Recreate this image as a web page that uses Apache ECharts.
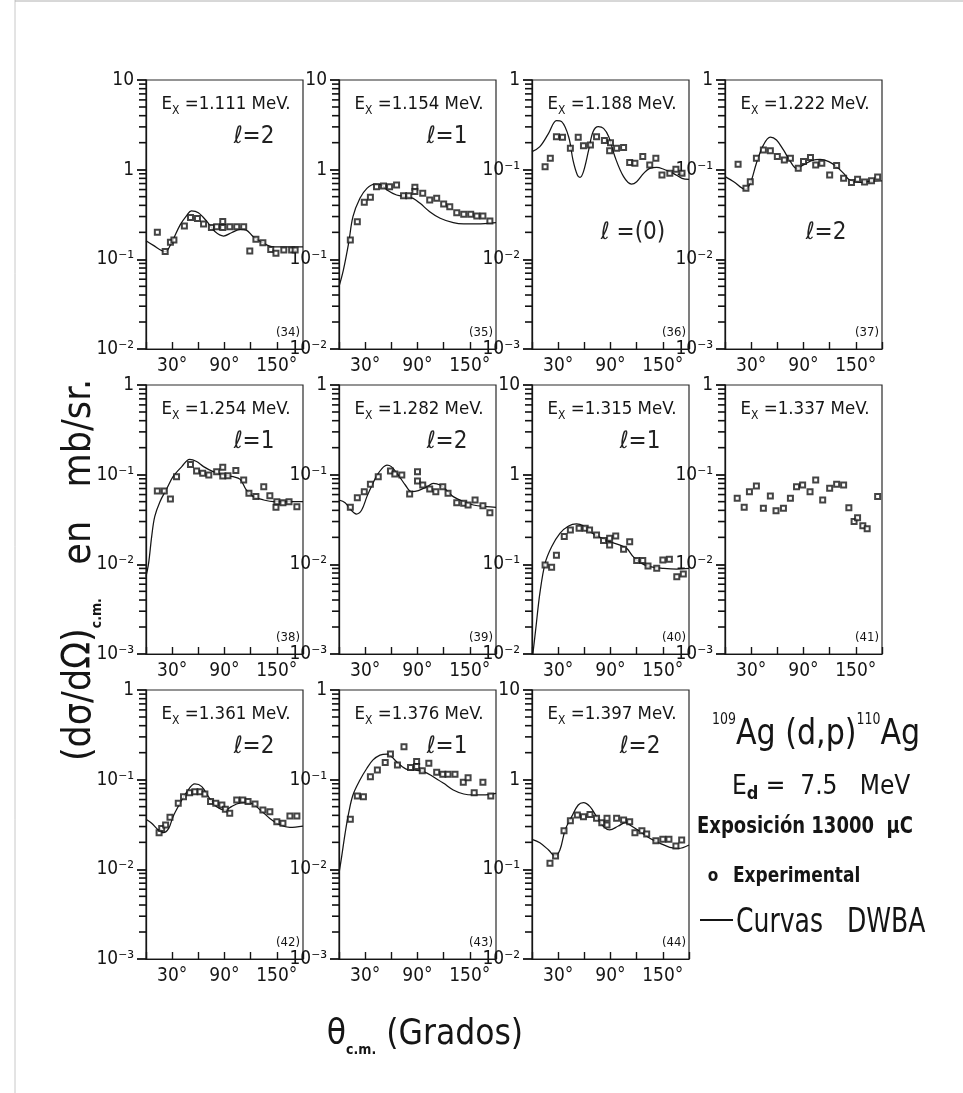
<!DOCTYPE html>
<html><head><meta charset="utf-8">
<script src="https://cdn.jsdelivr.net/npm/echarts@6/dist/echarts.min.js"></script>
<style>html,body{margin:0;padding:0;background:#fff}#c{width:963px;height:1093px}</style>
</head><body><div id="c"></div>
<script>
// ---------------- data ----------------
const xTickLabels = [30, 90, 150];
const energies = ['1.111','1.154','1.188','1.222','1.254','1.282','1.315','1.337','1.361','1.376','1.397'];
const lValues = ['2','1','(0)','2','1','2','1',null,'2','1','2'];
const panelNumbers = ['(34)','(35)','(36)','(37)','(38)','(39)','(40)','(41)','(42)','(43)','(44)'];
const yTops = [10,10,1,1,1,1,10,1,1,1,10];

const dwba34A = [0, 8, 22, 29, 39, 47, 52, 60, 70, 79, 89, 98, 108, 115, 123, 135, 146, 161, 180];
const dwba34S = [0.161, 0.144, 0.122, 0.151, 0.241, 0.312, 0.346, 0.331, 0.263, 0.204, 0.182, 0.198, 0.216, 0.212, 0.179, 0.151, 0.138, 0.138, 0.138];
const exp34A = [13, 22, 28, 32, 44, 51, 59, 66, 75, 81, 88, 88, 96, 104, 112, 119, 126, 134, 143, 149, 158, 167, 171];
const exp34S = [0.200, 0.122, 0.155, 0.164, 0.235, 0.292, 0.286, 0.248, 0.227, 0.231, 0.265, 0.227, 0.231, 0.231, 0.231, 0.124, 0.167, 0.153, 0.129, 0.117, 0.127, 0.127, 0.127];

const dwba35A = [0, 5, 11, 16, 24, 32, 41, 49, 55, 66, 78, 85, 93, 104, 116, 131, 143, 158, 180];
const dwba35S = [0.0496, 0.076, 0.151, 0.299, 0.479, 0.619, 0.692, 0.674, 0.593, 0.522, 0.500, 0.479, 0.421, 0.340, 0.287, 0.256, 0.248, 0.248, 0.256];
const exp35A = [13, 21, 29, 36, 43, 51, 58, 66, 74, 80, 87, 87, 96, 104, 112, 120, 127, 135, 143, 151, 158, 165, 173];
const exp35S = [0.164, 0.263, 0.432, 0.491, 0.646, 0.658, 0.646, 0.675, 0.513, 0.513, 0.635, 0.569, 0.545, 0.459, 0.479, 0.414, 0.387, 0.331, 0.318, 0.318, 0.304, 0.304, 0.268];

const dwba36A = [0, 9, 19, 28, 34, 42, 47, 52, 55, 59, 65, 70, 76, 82, 88, 95, 105, 114, 120, 128, 135, 143, 151, 162, 172, 180];
const dwba36S = [0.159, 0.181, 0.254, 0.352, 0.343, 0.233, 0.128, 0.0872, 0.082, 0.095, 0.166, 0.265, 0.302, 0.289, 0.233, 0.140, 0.0836, 0.0692, 0.0735, 0.091, 0.1035, 0.106, 0.101, 0.091, 0.080, 0.078];
const exp36A = [15, 21, 28, 35, 44, 53, 59, 67, 74, 83, 89, 90, 97, 105, 112, 118, 127, 135, 142, 149, 158, 165, 172];
const exp36S = [0.108, 0.134, 0.233, 0.230, 0.173, 0.230, 0.185, 0.188, 0.233, 0.211, 0.163, 0.200, 0.173, 0.177, 0.120, 0.118, 0.140, 0.113, 0.134, 0.0872, 0.091, 0.101, 0.091];

const dwba37A = [0, 10, 23, 29, 36, 44, 52, 59, 67, 75, 82, 90, 101, 109, 119, 128, 136, 143, 155, 165, 180];
const dwba37S = [0.0836, 0.0735, 0.0604, 0.0704, 0.118, 0.188, 0.230, 0.214, 0.166, 0.123, 0.1035, 0.113, 0.128, 0.130, 0.123, 0.108, 0.091, 0.0767, 0.072, 0.074, 0.075];
const exp37A = [15, 24, 29, 36, 44, 52, 60, 68, 75, 84, 90, 98, 104, 111, 120, 128, 136, 145, 152, 160, 168, 175];
const exp37S = [0.115, 0.062, 0.0735, 0.134, 0.166, 0.163, 0.140, 0.128, 0.134, 0.1035, 0.123, 0.137, 0.113, 0.118, 0.087, 0.111, 0.080, 0.072, 0.078, 0.073, 0.075, 0.083];

const dwba38A = [0, 3, 6.5, 10, 16, 24, 31, 41, 50, 58, 66, 77, 89, 100, 108, 115, 123, 135, 146, 161, 180];
const dwba38S = [0.0073, 0.0103, 0.0204, 0.034, 0.050, 0.0704, 0.095, 0.123, 0.148, 0.140, 0.123, 0.108, 0.099, 0.095, 0.0887, 0.0675, 0.0569, 0.0522, 0.050, 0.050, 0.050];
const exp38A = [13, 21, 28, 35, 51, 58, 65, 72, 81, 88, 88, 94, 103, 112, 118, 126, 135, 142, 149, 150, 157, 164, 173];
const exp38S = [0.0658, 0.0658, 0.0535, 0.095, 0.130, 0.110, 0.1035, 0.099, 0.108, 0.121, 0.0966, 0.097, 0.111, 0.087, 0.062, 0.0569, 0.0735, 0.0583, 0.0432, 0.050, 0.0487, 0.050, 0.044];

const dwba39A = [0, 7, 13, 20, 26, 32, 38, 45, 55, 60, 68, 76, 83, 91, 101, 108, 116, 123, 131, 143, 154, 169, 180];
const dwba39S = [0.0522, 0.0487, 0.0411, 0.0364, 0.0404, 0.0569, 0.0767, 0.1035, 0.128, 0.123, 0.099, 0.0767, 0.0646, 0.0664, 0.0735, 0.080, 0.0767, 0.0675, 0.0569, 0.050, 0.0459, 0.044, 0.0432];
const exp39A = [13, 21, 29, 36, 45, 59, 64, 72, 81, 90, 90, 96, 104, 111, 119, 125, 135, 143, 148, 156, 165, 173];
const exp39S = [0.0432, 0.0554, 0.0646, 0.078, 0.095, 0.110, 0.1017, 0.099, 0.0608, 0.108, 0.085, 0.0767, 0.0692, 0.0646, 0.0735, 0.062, 0.0487, 0.0479, 0.0459, 0.0522, 0.0451, 0.0377];

const dwba40A = [1, 4.6, 9, 15, 22.5, 32, 42, 51, 59, 66.5, 78, 89, 101, 108.5, 116, 124, 135, 151, 166, 180];
const dwba40S = [0.0100, 0.0202, 0.0475, 0.1026, 0.157, 0.222, 0.268, 0.282, 0.268, 0.231, 0.200, 0.179, 0.164, 0.151, 0.122, 0.1045, 0.0942, 0.0902, 0.0887, 0.0902];
const exp40A = [15, 22.5, 28, 37, 44, 54, 61, 66, 74, 82, 89, 89, 96, 105, 112, 120, 127, 133, 143, 150, 157.5, 166, 173.5];
const exp40S = [0.0984, 0.0927, 0.126, 0.204, 0.241, 0.252, 0.252, 0.241, 0.212, 0.184, 0.195, 0.164, 0.207, 0.147, 0.179, 0.110, 0.110, 0.0957, 0.0902, 0.112, 0.114, 0.0728, 0.078];

const exp41A = [14, 22, 28, 36, 44, 52, 58.5, 67, 75, 82, 89, 97.5, 104, 112, 120, 128, 136, 142, 148, 152, 158, 163, 175];
const exp41S = [0.0545, 0.0432, 0.0646, 0.0748, 0.0421, 0.0578, 0.0397, 0.0421, 0.0545, 0.0735, 0.0767, 0.0646, 0.0872, 0.0522, 0.0704, 0.078, 0.0767, 0.0428, 0.030, 0.033, 0.027, 0.025, 0.057];

const dwba42A = [0, 6.5, 14, 20, 26, 31, 39, 47, 56, 64, 71.5, 81, 91, 98, 104, 112, 121, 131, 142, 154, 165, 180];
const dwba42S = [0.0361, 0.0326, 0.0275, 0.0256, 0.0286, 0.0387, 0.0545, 0.0735, 0.0895, 0.0836, 0.0646, 0.050, 0.0459, 0.050, 0.0535, 0.0554, 0.0545, 0.0459, 0.037, 0.0312, 0.0294, 0.0304];
const exp42A = [15, 18, 22.5, 27.5, 37, 43, 50, 56, 62, 67.5, 74, 80, 87, 91, 96, 104, 111, 117, 125, 134, 142, 150, 157, 165, 173];
const exp42S = [0.0256, 0.0286, 0.0312, 0.038, 0.0545, 0.0646, 0.0716, 0.0735, 0.0735, 0.0692, 0.0569, 0.0545, 0.0522, 0.0467, 0.0421, 0.0593, 0.0593, 0.0569, 0.0535, 0.0459, 0.044, 0.034, 0.0326, 0.0394, 0.0394];

const dwba43A = [0, 3, 7, 11, 16, 24, 32, 39, 47, 55, 60, 68, 78, 87, 97, 108, 120, 131, 143, 154, 165, 180];
const dwba43S = [0.0090, 0.0138, 0.0252, 0.0421, 0.0675, 0.099, 0.134, 0.166, 0.188, 0.193, 0.181, 0.152, 0.130, 0.128, 0.123, 0.108, 0.091, 0.0767, 0.0692, 0.0675, 0.0675, 0.0704];
const exp43A = [13, 21, 28, 36, 44, 53, 59, 67, 74.5, 82, 89, 89, 95.5, 103, 112, 119, 125, 133, 142.5, 148, 155, 165, 174];
const exp43S = [0.0361, 0.0658, 0.0646, 0.108, 0.128, 0.155, 0.193, 0.146, 0.233, 0.137, 0.159, 0.140, 0.126, 0.152, 0.121, 0.115, 0.115, 0.115, 0.0934, 0.105, 0.0716, 0.0934, 0.0658];

const dwba44A = [0, 9, 19, 26, 32, 38, 45.5, 53, 59, 66.5, 74, 82, 89, 99, 107, 114, 124, 135, 147, 158, 168, 180];
const dwba44S = [0.216, 0.198, 0.164, 0.141, 0.164, 0.275, 0.387, 0.522, 0.554, 0.50, 0.387, 0.299, 0.275, 0.304, 0.331, 0.304, 0.263, 0.222, 0.195, 0.176, 0.171, 0.187];
const exp44A = [20.6, 27, 36.7, 44, 52, 59, 66.5, 74, 80, 86, 86, 97, 105, 112, 118, 126, 131.5, 142, 150, 157, 165, 171.6];
const exp44S = [0.117, 0.141, 0.270, 0.349, 0.404, 0.387, 0.41, 0.371, 0.331, 0.371, 0.312, 0.371, 0.355, 0.34, 0.256, 0.27, 0.248, 0.209, 0.216, 0.216, 0.182, 0.212];

const dwbaAngles = [dwba34A, dwba35A, dwba36A, dwba37A, dwba38A, dwba39A, dwba40A, null, dwba42A, dwba43A, dwba44A];
const dwbaSigmas = [dwba34S, dwba35S, dwba36S, dwba37S, dwba38S, dwba39S, dwba40S, null, dwba42S, dwba43S, dwba44S];
const expAngles = [exp34A, exp35A, exp36A, exp37A, exp38A, exp39A, exp40A, exp41A, exp42A, exp43A, exp44A];
const expSigmas = [exp34S, exp35S, exp36S, exp37S, exp38S, exp39S, exp40S, exp41S, exp42S, exp43S, exp44S];

// ---------------- layout ----------------
const FONT = "'DejaVu Sans Condensed','Liberation Sans Narrow','DejaVu Sans',sans-serif";
const INK = '#151515';
const colLeft = [146, 339, 532, 725];
const rowTop = [80, 385, 690];
const W = 157, H = 269;
const sup = {'-':'⁻','1':'¹','2':'²','3':'³'};

function yLabel(v){
  const e = Math.round(Math.log10(v));
  if (e === 1) return '10';
  if (e === 0) return '1';
  return '10' + ('-' + (-e)).split('').map(c => sup[c]).join('');
}
// minor log ticks (2..9 of every decade) as axis values at the left edge
function minorTickValues(top){
  const hi = Math.round(Math.log10(top)), a = [];
  for (let d = hi - 3; d < hi; d++) for (let k = 2; k <= 9; k++) a.push([0, +(k * Math.pow(10, d)).toPrecision(3)]);
  return a;
}
function zip(a, b){ return a.map((v, i) => [v, b[i]]); }

const grid = [], xAxis = [], yAxis = [], series = [], graphic = [];

function addText(x, y, text, style, extra){
  graphic.push(Object.assign({type:'text', x:x, y:y, silent:true, z:10,
    style: Object.assign({text:text, fill:INK, fontFamily:FONT, textAlign:'left', textVerticalAlign:'middle'}, style)}, extra || {}));
}

yTops.forEach((top, i) => {
  const c = i % 4, r = Math.floor(i / 4);
  const L = colLeft[c], T = rowTop[r];
  grid.push({left:L, top:T, width:W, height:H, show:true, borderColor:'#2a2a2a', borderWidth:1.2, backgroundColor:'transparent'});
  xAxis.push({gridIndex:i, type:'value', min:0, max:180, interval:30,
    axisLine:{show:true, onZero:false, lineStyle:{color:INK, width:1.2}},
    axisTick:{show:true, inside:true, length:7, lineStyle:{color:INK, width:1.4}},
    axisLabel:{formatter: v => xTickLabels.includes(v) ? v + '°' : '', fontSize:19, color:INK, fontFamily:FONT, margin:8, showMinLabel:true, showMaxLabel:true},
    splitLine:{show:false}});
  yAxis.push({gridIndex:i, type:'log', logBase:10, min:top/1000, max:top, position:'left',
    axisLine:{show:true, lineStyle:{color:INK, width:1.3}},
    axisTick:{show:true, inside:false, length:9, lineStyle:{color:INK, width:1.8}},
    axisLabel:{formatter: yLabel, fontSize:19, color:INK, fontFamily:FONT, margin:12, showMinLabel:true, showMaxLabel:true},
    splitLine:{show:false}, minorTick:{show:false}, minorSplitLine:{show:false}});
  // minor ticks of the log axis, positioned through the axis scale
  series.push({type:'scatter', xAxisIndex:i, yAxisIndex:i, data: minorTickValues(top), clip:false, silent:true, z:5,
    symbol:'rect', symbolSize:[7, 1.6], symbolOffset:[-3.5, 0], itemStyle:{color:'#111', opacity:1}});
  if (dwbaAngles[i]) {
    series.push({type:'line', xAxisIndex:i, yAxisIndex:i, data: zip(dwbaAngles[i], dwbaSigmas[i]),
      smooth:0.35, symbol:'none', silent:true, clip:true, lineStyle:{color:INK, width:1.25}, z:2});
  }
  series.push({type:'scatter', xAxisIndex:i, yAxisIndex:i, data: zip(expAngles[i], expSigmas[i]),
    symbol:'emptyRect', symbolSize:5, silent:true, itemStyle:{color:INK, borderColor:INK, borderWidth:1.1}, z:3});

  // panel annotations
  addText(L + 80, T + 24, '{e|E}{s|X}{e| =' + energies[i] + ' MeV.}',
    {textAlign:'center', rich:{e:{fontSize:18.5, fontFamily:FONT, fill:INK, lineHeight:26, verticalAlign:'middle'},
                               s:{fontSize:12, fontFamily:FONT, fill:INK, lineHeight:14, verticalAlign:'bottom'}}});
  if (lValues[i]) {
    const lowL = (i === 2 || i === 3);
    const lText = lValues[i] === '(0)' ? 'ℓ =(0)' : 'ℓ=' + lValues[i];
    addText(L + (lowL ? 101 : 108), T + (lowL ? 153 : 57), lText,
      {textAlign:'center', fontSize:24, fontWeight:'normal', fill:'#222'});
  }
  addText(L + W - 3, T + H - 16, panelNumbers[i], {textAlign:'right', fontSize:13});
});

// axis titles
addText(80, 570, '{m|(dσ/dΩ)}{s|c.m.}{m|   en   mb/sr.}',
  {textAlign:'center', rich:{m:{fontSize:39, fontFamily:FONT, fill:INK, lineHeight:48, verticalAlign:'middle'},
                             s:{fontSize:14, fontFamily:FONT, fill:INK, fontWeight:'bold', lineHeight:16, verticalAlign:'bottom'}}},
  {rotation: Math.PI/2});
addText(425, 1035, '{m|θ}{s|c.m.}{m| (Grados)}',
  {textAlign:'center', rich:{m:{fontSize:35, fontFamily:FONT, fill:INK, lineHeight:44, verticalAlign:'middle'},
                             s:{fontSize:14, fontFamily:FONT, fill:INK, fontWeight:'bold', lineHeight:16, verticalAlign:'bottom'}}});

// legend block
addText(712, 735, '{u|109}{m|Ag (d,p)}{u|110}{m|Ag}',
  {rich:{m:{fontSize:36, fontFamily:FONT, fill:INK, lineHeight:44, verticalAlign:'middle'},
         u:{fontSize:15, fontFamily:FONT, fill:INK, lineHeight:16, verticalAlign:'top'}}},
  {scaleX:0.93});
addText(732, 787, '{m|E}{s|d}{m| =  7.5   MeV}',
  {rich:{m:{fontSize:26, fontFamily:FONT, fill:INK, lineHeight:32, verticalAlign:'middle'},
         s:{fontSize:18, fontFamily:FONT, fill:INK, fontWeight:'bold', lineHeight:16, verticalAlign:'bottom'}}});
addText(697, 827, 'Exposición 13000  µC', {fontSize:23, fontWeight:'bold'}, {scaleX:0.87});
addText(713, 877, 'o', {textAlign:'center', fontSize:17, fontWeight:'bold'});
addText(733, 877, 'Experimental', {fontSize:21, fontWeight:'bold'}, {scaleX:0.9});
graphic.push({type:'line', silent:true, shape:{x1:700, y1:920, x2:733, y2:920}, style:{stroke:INK, lineWidth:2}});
addText(736, 923, 'Curvas   DWBA', {fontSize:34}, {scaleX:0.82});

// scan edges
graphic.push({type:'line', silent:true, shape:{x1:15, y1:0, x2:15, y2:1093}, style:{stroke:'#c8c8c8', lineWidth:1}});
graphic.push({type:'line', silent:true, shape:{x1:15, y1:1, x2:963, y2:1}, style:{stroke:'#b0b0b0', lineWidth:1}});

const chart = echarts.init(document.getElementById('c'), null, {renderer:'canvas'});
chart.setOption({animation:false, backgroundColor:'#fff', grid, xAxis, yAxis, series, graphic});
</script>
</body></html>
